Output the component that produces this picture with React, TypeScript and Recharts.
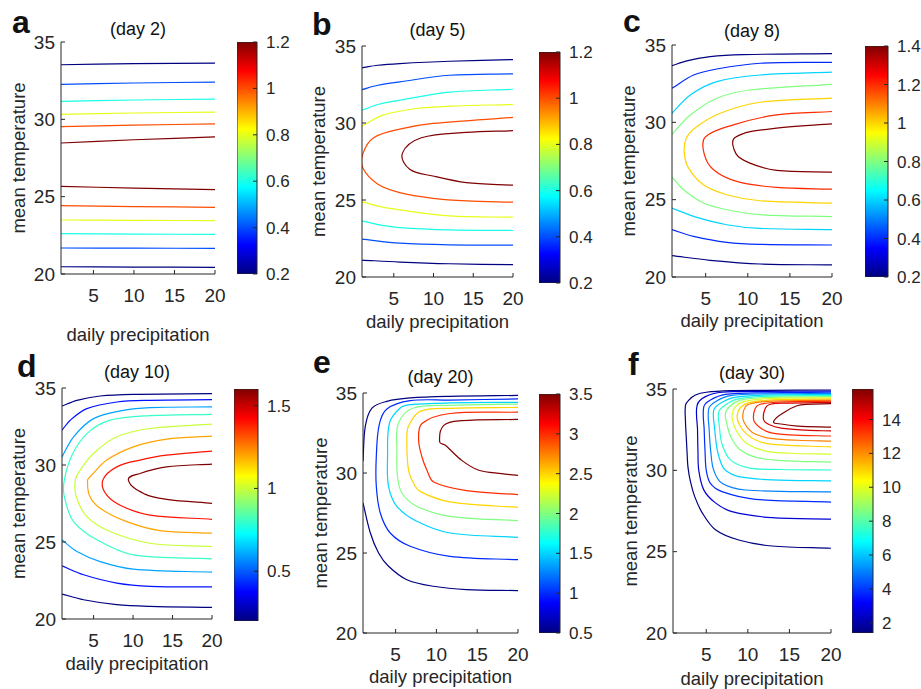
import React from 'react';
import { LineChart, Line, XAxis, YAxis, BarChart, Bar } from 'recharts';

const FONT = '"Liberation Sans", Arial, Helvetica, sans-serif';
const INK = '#262626';

type Pt = [number, number];
type Contour = { level: number; pts: Pt[] };

// axis ticks shared by all panels
const precipTicks = [5, 10, 15, 20];
const tempTicks = [20, 25, 30, 35];

// ---- contour lines, [daily precipitation, mean temperature] ----
const day2Contours: Contour[] = [
  { level: 0.2, pts: [[1, 33.53], [10, 33.6], [20, 33.64]] },
  { level: 0.4, pts: [[1, 32.26], [10, 32.35], [20, 32.41]] },
  { level: 0.6, pts: [[1, 31.16], [10, 31.25], [20, 31.31]] },
  { level: 0.8, pts: [[1, 30.32], [10, 30.41], [20, 30.47]] },
  { level: 1.0, pts: [[1, 29.53], [10, 29.63], [20, 29.7]] },
  { level: 1.2, pts: [[1, 28.47], [10, 28.68], [20, 28.86]] },
  { level: 1.2, pts: [[1, 25.67], [10, 25.55], [20, 25.45]] },
  { level: 1.0, pts: [[1, 24.42], [10, 24.36], [20, 24.31]] },
  { level: 0.8, pts: [[1, 23.49], [10, 23.47], [20, 23.45]] },
  { level: 0.6, pts: [[1, 22.61], [10, 22.58], [20, 22.56]] },
  { level: 0.4, pts: [[1, 21.68], [10, 21.67], [20, 21.66]] },
  { level: 0.2, pts: [[1, 20.47], [10, 20.45], [20, 20.43]] },
];

const day5Contours: Contour[] = [
  { level: 0.2, pts: [[1, 33.58], [3, 33.75], [5.74, 33.86], [12, 34.01], [20, 34.12]] },
  { level: 0.4, pts: [[1, 32.17], [3, 32.45], [5.74, 32.67], [12, 33.1], [20, 33.19]] },
  { level: 0.6, pts: [[1, 30.83], [3, 31.2], [5.74, 31.48], [12, 32.0], [20, 32.19]] },
  { level: 0.8, pts: [[1, 29.8], [3.64, 30.51], [7.84, 30.94], [12, 31.09], [20, 31.2]] },
  { level: 1.0, pts: [[20, 30.36], [9.93, 29.97], [5.74, 29.6], [2.47, 29.04], [1.13, 28.03], [1.13, 27.06], [3.01, 26.02], [5.74, 25.48], [9.93, 25.11], [14.13, 24.94], [20, 24.86]] },
  { level: 1.2, pts: [[20, 29.5], [14.13, 29.39], [8.47, 29.04], [6.08, 28.03], [7.0, 26.99], [9.93, 26.56], [14.13, 26.13], [20, 25.96]] },
  { level: 0.8, pts: [[1, 24.9], [3, 24.6], [5.74, 24.36], [12, 23.97], [20, 23.88]] },
  { level: 0.6, pts: [[1, 23.65], [3, 23.4], [5.74, 23.21], [12, 23.06], [20, 23.02]] },
  { level: 0.4, pts: [[1, 22.46], [5.74, 22.2], [12, 22.09], [20, 22.07]] },
  { level: 0.2, pts: [[1, 21.1], [5.74, 20.97], [12, 20.86], [20, 20.8]] },
];

const day8Contours: Contour[] = [
  { level: 0.2, pts: [[1, 33.67], [2.77, 33.97], [5.53, 34.25], [9.47, 34.38], [20, 34.44]] },
  { level: 0.4, pts: [[1, 32.2], [3.56, 33.06], [6.32, 33.45], [11.45, 33.82], [20, 33.88]] },
  { level: 0.6, pts: [[1, 30.59], [3.17, 31.77], [6.32, 32.63], [11.45, 33.06], [20, 33.24]] },
  { level: 0.8, pts: [[1, 29.23], [3.17, 30.48], [6.32, 31.56], [10.26, 32.09], [20, 32.46]] },
  { level: 1.0, pts: [[20, 31.56], [11.45, 31.3], [6.72, 30.59], [3.96, 29.73], [2.69, 28.97], [2.46, 28.01], [2.97, 27.04], [4.74, 25.96], [7.5, 25.32], [11.45, 24.93], [20, 24.78]] },
  { level: 1.2, pts: [[20, 30.7], [13.42, 30.48], [8.29, 29.84], [4.94, 29.04], [4.82, 27.96], [5.93, 26.93], [8.69, 26.18], [13.42, 25.79], [20, 25.68]] },
  { level: 1.4, pts: [[20, 29.9], [13.42, 29.62], [8.49, 29.02], [8.61, 27.96], [10.26, 27.36], [13.42, 26.89], [20, 26.78]] },
  { level: 0.8, pts: [[1, 26.46], [2.38, 25.64], [4.74, 24.78], [7.5, 24.35], [11.45, 24.03], [20, 23.9]] },
  { level: 0.6, pts: [[1, 24.46], [3.56, 23.92], [7.5, 23.38], [11.45, 23.14], [20, 23.06]] },
  { level: 0.4, pts: [[1, 23.06], [3.56, 22.63], [7.5, 22.24], [11.45, 22.11], [20, 22.07]] },
  { level: 0.2, pts: [[1, 21.38], [5.53, 21.08], [11.45, 20.84], [20, 20.78]] },
];

const day10Contours: Contour[] = [
  { level: 0.2, pts: [[1, 33.83], [2.89, 34.2], [5.83, 34.48], [10.04, 34.59], [20, 34.63]] },
  { level: 0.4, pts: [[1, 32.26], [2.05, 32.91], [4.15, 33.66], [7.94, 34.09], [12.14, 34.2], [20, 34.24]] },
  { level: 0.6, pts: [[1, 30.53], [2.47, 31.83], [4.99, 33.01], [8.78, 33.55], [12.14, 33.73], [20, 33.77]] },
  { level: 0.8, pts: [[20, 33.29], [12.14, 33.21], [7.09, 32.91], [4.15, 32.04], [2.26, 30.64], [1.29, 29.02], [1.29, 27.94], [2.47, 26.32], [5.41, 25.14], [10.04, 24.16], [20, 23.91]] },
  { level: 1.0, pts: [[20, 32.65], [12.14, 32.37], [7.94, 31.83], [4.99, 30.75], [3.31, 29.67], [2.68, 29.02], [2.81, 27.94], [4.15, 26.65], [7.09, 25.68], [12.14, 24.92], [20, 24.7]] },
  { level: 1.2, pts: [[20, 31.87], [14.24, 31.68], [10.04, 31.18], [6.67, 30.32], [4.57, 29.24], [4.24, 29.02], [4.49, 28.01], [5.83, 27.19], [9.2, 26.32], [13.4, 25.74], [20, 25.57]] },
  { level: 1.4, pts: [[20, 30.9], [14.24, 30.64], [10.88, 30.32], [7.94, 29.88], [6.17, 29.02], [6.67, 28.05], [8.78, 27.29], [12.14, 26.75], [20, 26.47]] },
  { level: 1.6, pts: [[20, 30.06], [14.24, 29.88], [10.88, 29.45], [9.41, 29.02], [11.51, 28.11], [14.24, 27.77], [20, 27.51]] },
  { level: 0.6, pts: [[1, 25.14], [2.89, 24.38], [5.83, 23.73], [10.04, 23.24], [20, 23.04]] },
  { level: 0.4, pts: [[1, 23.45], [3.73, 22.87], [7.94, 22.33], [12.14, 22.12], [20, 22.08]] },
  { level: 0.2, pts: [[1, 21.62], [3.73, 21.25], [7.94, 20.93], [12.14, 20.82], [20, 20.75]] },
];

const day20Contours: Contour[] = [
  { level: 0.5, pts: [[1, 30.73], [1.28, 32.92], [2.1, 34.06], [3.93, 34.48], [6.78, 34.69], [11.66, 34.79], [20, 34.85]] },
  { level: 0.5, pts: [[1, 28.13], [1.9, 26.25], [2.91, 25.0], [4.13, 24.17], [6.37, 23.33], [9.62, 22.92], [13.69, 22.71], [20, 22.65]] },
  { level: 1.0, pts: [[20, 34.63], [11.66, 34.56], [6.78, 34.52], [3.93, 34.0], [2.99, 33.02], [2.63, 31.04], [2.63, 29.17], [3.12, 27.5], [4.34, 26.25], [6.78, 25.42], [11.66, 24.79], [20, 24.58]] },
  { level: 1.5, pts: [[20, 34.42], [11.66, 34.38], [6.78, 34.27], [5.56, 34.06], [4.25, 33.13], [4.01, 31.04], [4.13, 29.17], [5.15, 27.92], [7.59, 26.98], [11.66, 26.25], [20, 25.98]] },
  { level: 2.0, pts: [[20, 34.31], [11.66, 34.23], [7.18, 34.06], [5.35, 33.13], [5.15, 31.46], [5.23, 29.79], [5.76, 28.75], [7.59, 27.92], [11.66, 27.29], [20, 27.02]] },
  { level: 2.5, pts: [[20, 34.1], [11.66, 34.04], [8.0, 33.85], [6.57, 32.92], [6.37, 32.08], [6.57, 30.21], [7.18, 29.38], [8.0, 28.85], [11.66, 28.19], [20, 27.85]] },
  { level: 3.0, pts: [[20, 33.8], [11.66, 33.72], [8.23, 33.09], [7.82, 32.04], [8.23, 31.0], [8.84, 30.17], [9.66, 29.44], [13.69, 28.9], [20, 28.65]] },
  { level: 3.5, pts: [[20, 33.35], [13.1, 33.27], [10.9, 32.98], [10.4, 31.94], [11.1, 31.73], [13.1, 30.79], [15.2, 30.17], [18.0, 29.96], [20, 29.85]] },
];

const day30Contours: Contour[] = [
  { level: 1.4, pts: [[20, 34.94], [12, 34.92], [8, 34.9], [5, 34.8], [3.7, 34.63], [2.9, 34.32], [2.5, 34.0], [2.5, 33.0], [2.6, 32.0], [2.7, 31.0], [2.8, 30.2], [3.1, 29.3], [3.6, 28.4], [4.5, 27.4], [6.1, 26.35], [8.9, 25.72], [12.9, 25.35], [20, 25.21]] },
  { level: 2.6, pts: [[20, 34.87], [12, 34.85], [6.9, 34.8], [4.9, 34.53], [3.9, 34.0], [3.95, 32.5], [4.0, 31.2], [4.1, 30.0], [4.7, 28.8], [6.1, 28.0], [8.1, 27.46], [12.9, 27.09], [20, 27.0]] },
  { level: 3.8, pts: [[20, 34.8], [12, 34.77], [7.3, 34.67], [5.5, 34.32], [4.7, 33.9], [4.75, 32.5], [4.85, 31.2], [5.0, 30.0], [5.5, 29.2], [6.9, 28.69], [10.9, 28.22], [20, 28.05]] },
  { level: 5.0, pts: [[20, 34.73], [12, 34.7], [7.9, 34.59], [6.1, 34.22], [5.3, 33.8], [5.35, 32.5], [5.55, 31.1], [5.9, 30.0], [6.9, 29.2], [9.7, 28.79], [20, 28.67]] },
  { level: 6.2, pts: [[20, 34.66], [12, 34.62], [8.3, 34.47], [6.7, 34.12], [5.9, 33.7], [6.0, 32.6], [6.3, 31.3], [6.8, 30.4], [7.3, 30.0], [8.9, 29.61], [12.9, 29.41], [20, 29.35]] },
  { level: 7.4, pts: [[20, 34.6], [12, 34.55], [8.7, 34.38], [7.3, 34.02], [6.5, 33.6], [6.6, 32.6], [6.9, 31.6], [7.9, 30.64], [10.1, 30.15], [14, 30.05], [20, 30.02]] },
  { level: 8.6, pts: [[20, 34.53], [12, 34.48], [9.1, 34.32], [7.9, 33.97], [7.3, 33.5], [7.5, 32.8], [8.0, 32.0], [9.0, 31.3], [11, 30.8], [14, 30.6], [20, 30.51]] },
  { level: 9.8, pts: [[20, 34.46], [12, 34.4], [9.5, 34.22], [8.5, 33.91], [8.1, 33.4], [8.3, 32.8], [8.9, 32.2], [10, 31.6], [12, 31.2], [15, 31.05], [20, 31.0]] },
  { level: 11.0, pts: [[20, 34.39], [12.5, 34.32], [10.1, 34.16], [9.1, 33.85], [8.7, 33.3], [9.0, 32.8], [9.7, 32.3], [11, 31.85], [13, 31.6], [20, 31.44]] },
  { level: 12.2, pts: [[20, 34.32], [13, 34.26], [10.5, 34.12], [9.7, 33.91], [9.4, 33.2], [10, 32.6], [11, 32.2], [13, 31.95], [16, 31.85], [20, 31.8]] },
  { level: 13.4, pts: [[20, 34.25], [14, 34.2], [11.5, 34.06], [10.9, 33.81], [10.7, 33.1], [11.3, 32.7], [12.5, 32.35], [15, 32.18], [20, 32.11]] },
  { level: 14.6, pts: [[20, 34.18], [14.5, 34.13], [12.7, 34.06], [12.1, 33.81], [11.9, 33.1], [12.6, 32.8], [14, 32.6], [17, 32.47], [20, 32.42]] },
  { level: 15.8, pts: [[20, 34.1], [17, 34.06], [15.9, 33.97], [14.5, 33.6], [13.1, 33.0], [14, 32.85], [16, 32.72], [20, 32.66]] },
];

// colour bar ranges and ticks
const day2Range: Pt = [0.2, 1.2];
const day2BarTicks = [0.2, 0.4, 0.6, 0.8, 1, 1.2];
const day5Range: Pt = [0.2, 1.2];
const day5BarTicks = [0.2, 0.4, 0.6, 0.8, 1, 1.2];
const day8Range: Pt = [0.2, 1.4];
const day8BarTicks = [0.2, 0.4, 0.6, 0.8, 1, 1.2, 1.4];
const day10Range: Pt = [0.2, 1.6];
const day10BarTicks = [0.5, 1, 1.5];
const day20Range: Pt = [0.5, 3.5];
const day20BarTicks = [0.5, 1, 1.5, 2, 2.5, 3, 3.5];
const day30Range: Pt = [1.4, 15.8];
const day30BarTicks = [2, 4, 6, 8, 10, 12, 14];

// jet colormap
const jetStops: [number, number, number, number][] = [
  [0, 0, 0, 128],
  [0.125, 0, 0, 255],
  [0.375, 0, 255, 255],
  [0.625, 255, 255, 0],
  [0.875, 255, 0, 0],
  [1, 128, 0, 0],
];

function jet(t: number) {
  const u = Math.max(0, Math.min(1, t));
  for (let i = 1; i < jetStops.length; i++) {
    const [p0, r0, g0, b0] = jetStops[i - 1];
    const [p1, r1, g1, b1] = jetStops[i];
    if (u <= p1) {
      const k = (u - p0) / (p1 - p0);
      const c = (a: number, b: number) => Math.round(a + (b - a) * k);
      return `rgb(${c(r0, r1)},${c(g0, g1)},${c(b0, b1)})`;
    }
  }
  return 'rgb(128,0,0)';
}

// soft spline through the points, tangents scaled by segment length so it never overshoots much
function smoothCurve(context: any) {
  let pts: number[][] = [];
  return {
    areaStart() {},
    areaEnd() {},
    lineStart() { pts = []; },
    point(x: number, y: number) { pts.push([+x, +y]); },
    lineEnd() {
      if (!pts.length) return;
      context.moveTo(pts[0][0], pts[0][1]);
      const dir = (a: number[], b: number[]) => {
        const dx = b[0] - a[0];
        const dy = b[1] - a[1];
        const d = Math.hypot(dx, dy) || 1;
        return [dx / d, dy / d];
      };
      for (let i = 0; i < pts.length - 1; i++) {
        const p0 = pts[i - 1] || pts[i];
        const p1 = pts[i];
        const p2 = pts[i + 1];
        const p3 = pts[i + 2] || p2;
        const len = Math.hypot(p2[0] - p1[0], p2[1] - p1[1]) * 0.33;
        const t1 = dir(p0, p2);
        const t2 = dir(p1, p3);
        context.bezierCurveTo(
          p1[0] + t1[0] * len, p1[1] + t1[1] * len,
          p2[0] - t2[0] * len, p2[1] - t2[1] * len,
          p2[0], p2[1],
        );
      }
    },
  };
}

type Box = { l: number; t: number; w: number; h: number };
type PanelSpec = {
  letter: string;
  title: string;
  contours: Contour[];
  range: Pt;
  barTicks: number[];
  plot: Box;
  bar: Box;
  letterPos: Pt;
  titleY: number;
  xLabelY: number;
  yLabelX: number;
};

const panels: PanelSpec[] = [
  { letter: 'a', title: '(day 2)', contours: day2Contours, range: day2Range, barTicks: day2BarTicks,
    plot: { l: 61, t: 42, w: 154, h: 232 }, bar: { l: 237, t: 42, w: 20, h: 232 },
    letterPos: [12, 33], titleY: 35, xLabelY: 341, yLabelX: 25 },
  { letter: 'b', title: '(day 5)', contours: day5Contours, range: day5Range, barTicks: day5BarTicks,
    plot: { l: 362, t: 46, w: 151, h: 231 }, bar: { l: 539, t: 52, w: 21, h: 231 },
    letterPos: [312, 35], titleY: 36, xLabelY: 328, yLabelX: 325 },
  { letter: 'c', title: '(day 8)', contours: day8Contours, range: day8Range, barTicks: day8BarTicks,
    plot: { l: 672, t: 45, w: 160, h: 232 }, bar: { l: 865, t: 46, w: 23, h: 231 },
    letterPos: [623, 32], titleY: 37, xLabelY: 327, yLabelX: 635 },
  { letter: 'd', title: '(day 10)', contours: day10Contours, range: day10Range, barTicks: day10BarTicks,
    plot: { l: 62, t: 388, w: 150, h: 231 }, bar: { l: 234, t: 389, w: 24, h: 232 },
    letterPos: [17, 377], titleY: 378, xLabelY: 670, yLabelX: 25 },
  { letter: 'e', title: '(day 20)', contours: day20Contours, range: day20Range, barTicks: day20BarTicks,
    plot: { l: 363, t: 393, w: 155, h: 240 }, bar: { l: 539, t: 394, w: 21, h: 239 },
    letterPos: [313, 373], titleY: 383, xLabelY: 683, yLabelX: 327 },
  { letter: 'f', title: '(day 30)', contours: day30Contours, range: day30Range, barTicks: day30BarTicks,
    plot: { l: 673, t: 389, w: 158, h: 244 }, bar: { l: 852, t: 389, w: 21, h: 244 },
    letterPos: [628, 375], titleY: 379, xLabelY: 685, yLabelX: 637 },
];

const YW = 50;
const XH = 45;
const MT = 12;
const MR = 16;
const tickStyle = { fontSize: 19, fill: INK, fontFamily: FONT };

function ContourPlot({ p }: { p: PanelSpec }) {
  const { plot, range } = p;
  return (
    <div style={{ position: 'absolute', left: plot.l - YW, top: plot.t - MT }}>
      <LineChart
        width={plot.w + YW + MR}
        height={plot.h + MT + XH}
        margin={{ top: MT, right: MR, bottom: 0, left: 0 }}
      >
        <XAxis xAxisId="b" dataKey="x" type="number" domain={[1, 20]} ticks={precipTicks} interval={0}
          allowDataOverflow height={XH} tickSize={-4} tickMargin={19} stroke={INK} tick={tickStyle} />
        <XAxis xAxisId="t" orientation="top" dataKey="x" type="number" domain={[1, 20]} ticks={precipTicks} interval={0}
          allowDataOverflow height={0} tickSize={-4} stroke={INK} tick={false} />
        <YAxis yAxisId="l" type="number" domain={[20, 35]} ticks={tempTicks} interval={0}
          allowDataOverflow width={YW} tickSize={-4} tickMargin={10} stroke={INK} tick={tickStyle} />
        <YAxis yAxisId="r" orientation="right" type="number" domain={[20, 35]} ticks={tempTicks} interval={0}
          allowDataOverflow width={0} tickSize={-4} stroke={INK} tick={false} />
        {p.contours.map((c, i) => (
          <Line
            key={i}
            xAxisId="b"
            yAxisId="l"
            data={c.pts.map(([x, y]) => ({ x, y }))}
            dataKey="y"
            type={smoothCurve as any}
            stroke={jet((c.level - range[0]) / (range[1] - range[0]))}
            strokeWidth={1.2}
            dot={false}
            activeDot={false}
            isAnimationActive={false}
          />
        ))}
      </LineChart>
    </div>
  );
}

function ColorBar({ p }: { p: PanelSpec }) {
  const { bar, range } = p;
  const id = `jet-${p.letter}`;
  return (
    <div style={{ position: 'absolute', left: bar.l, top: bar.t - MT }}>
      <BarChart
        width={bar.w + 45}
        height={bar.h + 2 * MT}
        data={[{ name: 'c', span: [range[0], range[1]] }]}
        margin={{ top: MT, right: 0, bottom: MT, left: 0 }}
        barCategoryGap={0}
      >
        <defs>
          <linearGradient id={id} x1="0" y1="1" x2="0" y2="0">
            {jetStops.map(([o, r, g, b]) => (
              <stop key={o} offset={`${o * 100}%`} stopColor={`rgb(${r},${g},${b})`} />
            ))}
          </linearGradient>
        </defs>
        <XAxis dataKey="name" hide />
        <YAxis orientation="right" type="number" width={45} domain={[range[0], range[1]]} ticks={p.barTicks}
          interval={0} allowDataOverflow axisLine={false} tickSize={-4} tickMargin={13} stroke={INK}
          tick={{ fontSize: 17, fill: INK, fontFamily: FONT }} />
        <Bar dataKey="span" fill={`url(#${id})`} stroke={INK} strokeWidth={1} isAnimationActive={false} />
      </BarChart>
    </div>
  );
}

export default function App() {
  return (
    <div style={{ position: 'absolute', left: 0, top: 0, width: 921, height: 689, background: '#fff', fontFamily: FONT }}>
      {panels.map((p) => (
        <React.Fragment key={p.letter}>
          <ContourPlot p={p} />
          <ColorBar p={p} />
        </React.Fragment>
      ))}
      <svg width={921} height={689} style={{ position: 'absolute', left: 0, top: 0, pointerEvents: 'none' }}>
        {panels.map((p) => {
          const cx = p.plot.l + p.plot.w / 2;
          const cy = p.plot.t + p.plot.h / 2;
          return (
            <g key={p.letter} fontFamily={FONT}>
              <text x={p.letterPos[0]} y={p.letterPos[1]} fontSize={32} fontWeight="bold" fill="#111">{p.letter}</text>
              <text x={cx} y={p.titleY} fontSize={18} textAnchor="middle" fill="#111">{p.title}</text>
              <text x={cx} y={p.xLabelY} fontSize={18.5} textAnchor="middle" fill={INK}>daily precipitation</text>
              <text x={p.yLabelX} y={cy} fontSize={18.5} textAnchor="middle" fill={INK}
                transform={`rotate(-90 ${p.yLabelX} ${cy})`}>mean temperature</text>
            </g>
          );
        })}
      </svg>
    </div>
  );
}
